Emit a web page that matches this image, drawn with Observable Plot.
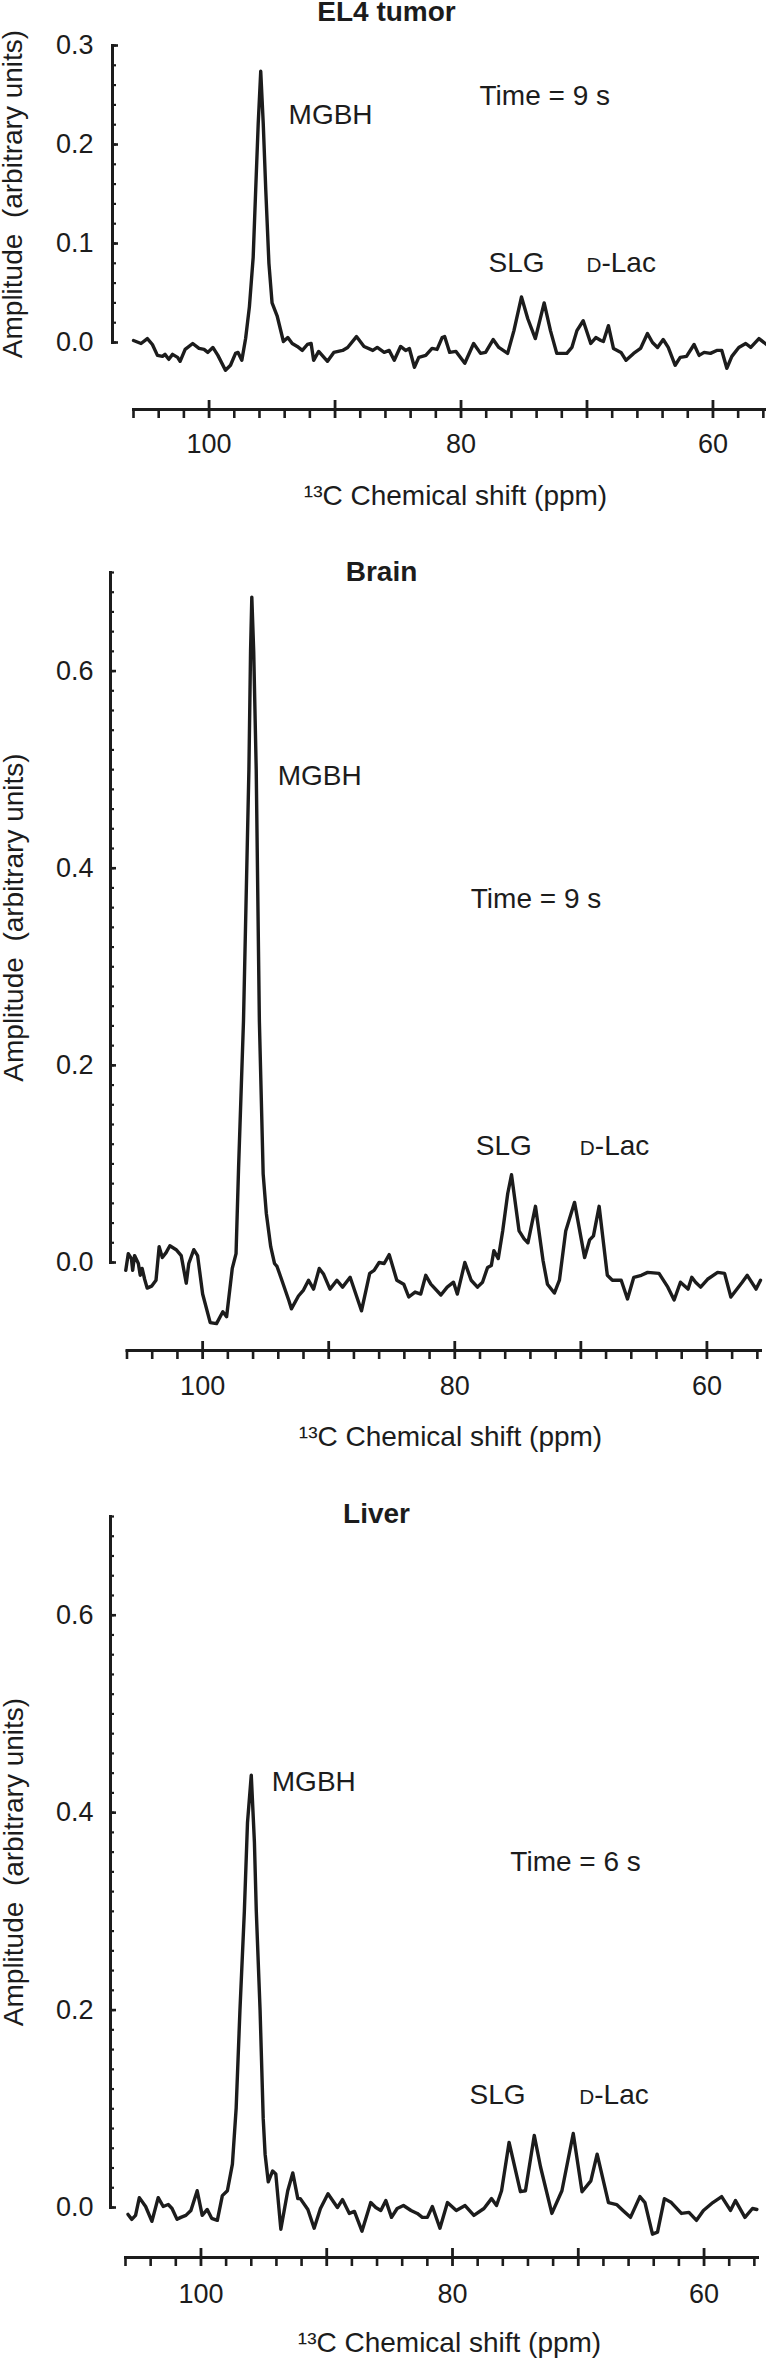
<!DOCTYPE html>
<html>
<head>
<meta charset="utf-8">
<script src="https://cdn.jsdelivr.net/npm/d3@7"></script>
<script src="https://cdn.jsdelivr.net/npm/@observablehq/plot@0.6"></script>
<style>
  html, body { margin: 0; padding: 0; background: #ffffff; }
  #chart { width: 766px; }
  #chart svg { display: block; }
</style>
</head>
<body>
<div id="chart"></div>
<script>
// ---- Data: [chemical shift (ppm), amplitude (arbitrary units)] ----
const el4Spectrum = [
  [106.0, 0.002], [105.4, -0.001], [104.9, 0.004], [104.5, -0.002], [104.1, -0.013],
  [103.7, -0.014], [103.5, -0.012], [103.2, -0.017], [102.9, -0.012], [102.5, -0.015],
  [102.3, -0.019], [101.9, -0.007], [101.3, -0.001], [100.8, -0.006], [100.4, -0.007],
  [100.1, -0.010], [99.7, -0.005], [99.3, -0.013], [98.7, -0.028], [98.3, -0.023],
  [97.9, -0.011], [97.7, -0.010], [97.4, -0.018], [97.1, 0.004], [96.8, 0.036],
  [96.5, 0.086], [96.3, 0.154], [96.1, 0.221], [95.9, 0.274], [95.7, 0.221],
  [95.5, 0.154], [95.25, 0.080], [95.0, 0.040], [94.6, 0.027], [94.1, 0.001],
  [93.75, 0.005], [93.4, -0.001], [93.0, -0.004], [92.6, -0.008], [92.2, -0.002],
  [91.9, -0.001], [91.7, -0.018], [91.3, -0.009], [90.6, -0.019], [90.1, -0.010],
  [89.4, -0.008], [89.0, -0.005], [88.3, 0.006], [87.7, -0.004], [87.0, -0.008],
  [86.65, -0.005], [86.1, -0.010], [85.7, -0.008], [85.3, -0.018], [84.8, -0.004],
  [84.4, -0.008], [84.1, -0.006], [83.7, -0.025], [83.35, -0.015], [82.8, -0.013],
  [82.3, -0.006], [81.9, -0.007], [81.5, 0.005], [81.3, 0.006], [80.9, -0.010],
  [80.4, -0.009], [79.7, -0.021], [79.0, -0.001], [78.45, -0.011], [78.05, -0.010],
  [77.45, 0.003], [77.0, -0.005], [76.3, -0.011], [75.8, 0.012], [75.2, 0.046],
  [74.7, 0.024], [74.1, 0.004], [73.4, 0.040], [72.9, 0.012], [72.4, -0.011],
  [71.6, -0.011], [71.2, -0.005], [70.8, 0.012], [70.3, 0.022], [69.7, -0.001],
  [69.3, 0.005], [68.9, 0.002], [68.7, 0.001], [68.3, 0.017], [67.9, -0.006],
  [67.3, -0.010], [66.9, -0.018], [66.3, -0.011], [65.75, -0.006], [65.2, 0.009],
  [64.8, 0.000], [64.4, -0.005], [63.95, 0.003], [63.55, -0.005], [63.0, -0.023],
  [62.6, -0.015], [62.1, -0.014], [61.5, -0.002], [61.1, -0.013], [60.7, -0.010],
  [60.2, -0.011], [59.7, -0.008], [59.3, -0.008], [58.9, -0.026], [58.5, -0.014],
  [57.95, -0.005], [57.4, -0.001], [57.0, -0.005], [56.35, 0.004], [55.75, -0.002]
];

const brainSpectrum = [
  [106.1, -0.008], [105.9, 0.009], [105.65, 0.004], [105.55, -0.008], [105.4, 0.007],
  [105.1, -0.001], [104.95, -0.013], [104.8, -0.006], [104.6, -0.017], [104.4, -0.026],
  [104.05, -0.024], [103.7, -0.018], [103.45, 0.016], [103.2, 0.005], [102.9, 0.010],
  [102.6, 0.017], [102.1, 0.013], [101.7, 0.007], [101.3, -0.021], [101.1, -0.001],
  [100.7, 0.013], [100.4, 0.007], [100.0, -0.032], [99.4, -0.061], [98.9, -0.062],
  [98.4, -0.050], [98.1, -0.055], [97.65, -0.006], [97.35, 0.009], [97.15, 0.096],
  [96.76, 0.245], [96.33, 0.500], [96.2, 0.620], [96.1, 0.675], [95.95, 0.620],
  [95.75, 0.500], [95.5, 0.245], [95.2, 0.090], [94.95, 0.050], [94.6, 0.016],
  [94.3, -0.001], [94.1, -0.004], [93.8, -0.015], [93.15, -0.039], [92.96, -0.047],
  [92.4, -0.034], [92.0, -0.028], [91.6, -0.018], [91.2, -0.027], [90.75, -0.006],
  [90.4, -0.012], [89.9, -0.027], [89.35, -0.018], [88.9, -0.025], [88.3, -0.015],
  [87.4, -0.049], [86.75, -0.011], [86.4, -0.008], [86.0, 0.000], [85.6, -0.001],
  [85.2, 0.008], [84.6, -0.018], [84.05, -0.022], [83.65, -0.035], [83.15, -0.030],
  [82.7, -0.032], [82.3, -0.013], [81.9, -0.022], [81.1, -0.033], [80.6, -0.025],
  [80.1, -0.020], [79.8, -0.032], [79.2, 0.000], [78.7, -0.018], [78.2, -0.025],
  [77.8, -0.020], [77.4, -0.005], [77.1, -0.003], [76.9, 0.012], [76.55, 0.004],
  [76.2, 0.032], [75.8, 0.070], [75.5, 0.089], [74.9, 0.032], [74.5, 0.024],
  [74.2, 0.020], [73.6, 0.057], [73.0, 0.002], [72.65, -0.022], [72.1, -0.031],
  [71.7, -0.018], [71.2, 0.032], [70.5, 0.061], [69.7, 0.005], [69.3, 0.023],
  [69.0, 0.027], [68.55, 0.057], [67.9, -0.013], [67.5, -0.018], [66.8, -0.018],
  [66.3, -0.037], [65.8, -0.015], [65.2, -0.013], [64.7, -0.010], [63.8, -0.011],
  [63.1, -0.025], [62.6, -0.038], [62.1, -0.020], [61.5, -0.027], [61.2, -0.015],
  [60.9, -0.020], [60.5, -0.025], [59.95, -0.017], [59.15, -0.010], [58.6, -0.011],
  [58.1, -0.035], [57.2, -0.020], [56.8, -0.013], [56.1, -0.027], [55.75, -0.018]
];

const liverSpectrum = [
  [105.8, -0.007], [105.5, -0.012], [105.2, -0.008], [104.9, 0.010], [104.4, 0.001],
  [103.9, -0.014], [103.4, 0.010], [103.0, 0.001], [102.6, 0.003], [102.3, -0.001],
  [101.9, -0.012], [101.6, -0.010], [101.2, -0.008], [100.8, -0.003], [100.3, 0.017],
  [99.9, -0.008], [99.5, -0.002], [99.15, -0.011], [98.7, -0.013], [98.3, 0.012],
  [97.9, 0.017], [97.5, 0.044], [97.2, 0.101], [96.9, 0.200], [96.55, 0.300],
  [96.3, 0.390], [96.0, 0.438], [95.75, 0.370], [95.6, 0.300], [95.3, 0.200],
  [95.05, 0.090], [94.9, 0.054], [94.65, 0.026], [94.3, 0.037], [94.05, 0.034],
  [93.65, -0.022], [93.1, 0.017], [92.7, 0.035], [92.3, 0.009], [92.1, 0.009],
  [91.5, -0.002], [91.0, -0.021], [90.5, -0.001], [89.9, 0.014], [89.15, 0.000],
  [88.75, 0.008], [88.2, -0.006], [87.8, -0.004], [87.2, -0.024], [86.5, 0.005],
  [86.1, 0.000], [85.7, -0.003], [85.3, 0.007], [84.85, -0.010], [84.4, -0.001],
  [83.9, 0.002], [83.3, -0.003], [82.8, -0.006], [82.4, -0.010], [82.0, -0.010],
  [81.6, 0.001], [81.0, -0.021], [80.4, 0.005], [79.7, -0.003], [79.0, 0.002],
  [78.3, -0.008], [77.5, -0.001], [76.9, 0.009], [76.5, 0.002], [76.1, 0.017],
  [75.5, 0.066], [74.6, 0.016], [74.2, 0.017], [73.5, 0.073], [73.0, 0.041],
  [72.1, -0.006], [71.3, 0.017], [70.4, 0.075], [69.7, 0.016], [69.0, 0.027],
  [68.5, 0.054], [67.6, 0.005], [66.95, 0.003], [66.45, -0.003], [65.85, -0.010],
  [65.1, 0.011], [64.7, 0.005], [64.1, -0.027], [63.7, -0.025], [63.15, 0.009],
  [62.6, 0.005], [61.8, -0.006], [61.2, -0.005], [60.6, -0.013], [60.05, -0.003],
  [59.3, 0.005], [58.6, 0.011], [57.9, -0.003], [57.5, 0.007], [56.75, -0.010],
  [56.15, -0.001], [55.8, -0.002]
];

// ---- Annotations (x in ppm, y in amplitude) ----
const el4Labels = [
  {x: 93.69, y: 0.230, text: "MGBH"},
  {x: 78.53, y: 0.249, text: "Time = 9 s"},
  {x: 77.82, y: 0.080, text: "SLG"},
  {x: 70.04, y: 0.080, text: "D-Lac"}
];
const brainLabels = [
  {x: 94.05, y: 0.494, text: "MGBH"},
  {x: 78.73, y: 0.369, text: "Time = 9 s"},
  {x: 78.33, y: 0.118, text: "SLG"},
  {x: 70.08, y: 0.118, text: "D-Lac"}
];
const liverLabels = [
  {x: 94.37, y: 0.431, text: "MGBH"},
  {x: 75.40, y: 0.350, text: "Time = 6 s"},
  {x: 78.65, y: 0.114, text: "SLG"},
  {x: 69.92, y: 0.114, text: "D-Lac"}
];

// ---- Axes ----
const xDomain = [106, 55.75];
const xMajorTicks = [100, 90, 80, 70, 60];
const xMinorTicks = [106, 104, 102, 98, 96, 94, 92, 88, 86, 84, 82, 78, 76, 74, 72, 68, 66, 64, 62, 58, 56];
const xTickLabels = [100, 80, 60];
const yTicksEl4 = [0, 0.1, 0.2, 0.3];
const yTicksOrgan = [0, 0.2, 0.4, 0.6];
const xTitle = "\u00B9\u00B3C Chemical shift (ppm)";
const yTitle = "Amplitude  (arbitrary units)";

const ink = "#1c1c1c";
const font = "'Liberation Sans', Arial, Helvetica, sans-serif";

const panels = [
  {title: "EL4 tumor", data: el4Spectrum, labels: el4Labels, yMax: 0.3, yMajor: yTicksEl4,
   height: 530, mt: 45, mb: 188, ml: 112, mr: 0, inset: 21,
   xAxisDy: 67, xLabelDy: 91.5, xTitleDy: 154, xTitleDx: 16, titleDx: -53, titleDy: -33, yTitleDx: -99, yPad: 19},
  {title: "Brain", data: brainSpectrum, labels: brainLabels, yMax: 0.7, yMajor: yTicksOrgan,
   height: 930, mt: 42, mb: 198, ml: 110, mr: 6, inset: 16.5,
   xAxisDy: 88, xLabelDy: 113.5, xTitleDy: 175, xTitleDx: 15, titleDx: -54, titleDy: 0, yTitleDx: -96, yPad: 17},
  {title: "Liver", data: liverSpectrum, labels: liverLabels, yMax: 0.7, yMajor: yTicksOrgan,
   height: 900, mt: 56, mb: 153, ml: 110, mr: 9, inset: 15,
   xAxisDy: 50, xLabelDy: 76.5, xTitleDy: 136, xTitleDx: 15.5, titleDx: -57.5, titleDy: -2, yTitleDx: -96, yPad: 17}
];

function makePanel(p) {
  const yMinor = d3.range(0, p.yMax + 1e-9, 0.02);
  const svg = Plot.plot({
    width: 766,
    height: p.height,
    marginTop: p.mt, marginBottom: p.mb, marginLeft: p.ml, marginRight: p.mr,
    style: {fontFamily: font, color: ink, background: "white", overflow: "visible"},
    x: {domain: xDomain, insetLeft: p.inset},
    y: {domain: [0, p.yMax]},
    marks: [
      Plot.frame({anchor: "left", strokeWidth: 3, stroke: ink}),
      Plot.frame({anchor: "bottom", insetLeft: p.inset, dy: p.xAxisDy, strokeWidth: 3, stroke: ink}),
      Plot.axisY({ticks: yMinor, tickSize: 4, dx: 4, fill: "none", stroke: ink, strokeWidth: 2.2, label: null}),
      Plot.axisY({ticks: p.yMajor, tickSize: 6, dx: 6, fill: "none", stroke: ink, strokeWidth: 2.6, label: null}),
      Plot.axisY({ticks: p.yMajor, tickSize: 0, tickPadding: p.yPad, tickFormat: d3.format(".1f"),
                  stroke: "none", fill: ink, fontSize: 27, label: null}),
      Plot.axisX({ticks: xMinorTicks, tickSize: 9, dy: p.xAxisDy, fill: "none", stroke: ink, strokeWidth: 2.6, label: null}),
      Plot.axisX({ticks: xMajorTicks, tickSize: 18, dy: p.xAxisDy - 9, fill: "none", stroke: ink, strokeWidth: 2.8, label: null}),
      Plot.axisX({ticks: xTickLabels, tickSize: 0, tickPadding: 0, dy: p.xLabelDy, tickFormat: d3.format("d"),
                  stroke: "none", fill: ink, fontSize: 27, label: null}),
      Plot.line(p.data, {x: d => d[0], y: d => d[1], stroke: ink, strokeWidth: 3.4, strokeLinejoin: "round", strokeLinecap: "round"}),
      Plot.text(p.labels, {x: "x", y: "y", text: "text", textAnchor: "start", lineAnchor: "middle", fontSize: 28, fill: ink}),
      Plot.text([p.title], {frameAnchor: "top", dx: p.titleDx, dy: p.titleDy, textAnchor: "middle", lineAnchor: "middle",
                            fontSize: 28, fontWeight: "bold", fill: ink}),
      Plot.text([xTitle], {frameAnchor: "bottom", dx: p.xTitleDx, dy: p.xTitleDy, textAnchor: "middle", lineAnchor: "middle",
                           fontSize: 28, fill: ink}),
      Plot.text([yTitle], {frameAnchor: "left", dx: p.yTitleDx, rotate: -90, textAnchor: "middle", lineAnchor: "middle",
                           fontSize: 28, fill: ink})
    ]
  });
  // small-capital "D" in D-Lac
  d3.select(svg).selectAll("text").each(function() {
    if (this.textContent === "D-Lac") {
      const t = d3.select(this);
      t.text(null);
      t.append("tspan").attr("font-size", "0.74em").text("D");
      t.append("tspan").text("-Lac");
    }
  });
  return svg;
}

const container = document.getElementById("chart");
for (const p of panels) container.appendChild(makePanel(p));
</script>
</body>
</html>
